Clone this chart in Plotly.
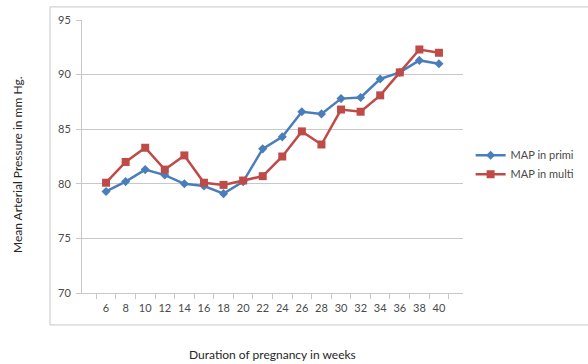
import plotly.graph_objects as go

weeks = [6, 8, 10, 12, 14, 16, 18, 20, 22, 24, 26, 28, 30, 32, 34, 36, 38, 40]
map_primi = [79.3, 80.2, 81.3, 80.8, 80.0, 79.8, 79.1, 80.2, 83.2, 84.3, 86.6, 86.4, 87.8, 87.9, 89.6, 90.2, 91.3, 91.0]
map_multi = [80.1, 82.0, 83.3, 81.3, 82.6, 80.1, 79.9, 80.3, 80.7, 82.5, 84.8, 83.6, 86.8, 86.6, 88.1, 90.2, 92.3, 92.0]
y_ticks = [70, 75, 80, 85, 90, 95]

x_labels = [str(w) for w in weeks]
FONT = "Lato"
TXT = "#4A4A4A"
GRID = "#C8C8C8"

fig = go.Figure()
fig.add_trace(go.Scatter(
    x=x_labels, y=map_primi, name="MAP in primi", mode="lines+markers",
    line=dict(color="#4A7EBB", width=2.5),
    marker=dict(symbol="diamond", size=7, color="#4A7EBB"),
))
fig.add_trace(go.Scatter(
    x=x_labels, y=map_multi, name="MAP in multi", mode="lines+markers",
    line=dict(color="#BE4B48", width=2.5),
    marker=dict(symbol="square", size=8, color="#BE4B48"),
))

fig.update_layout(
    width=588, height=364,
    margin=dict(l=82, r=125, t=20, b=71, autoexpand=False),
    paper_bgcolor="white", plot_bgcolor="white",
    font=dict(family=FONT, size=11, color=TXT),
    showlegend=True,
    legend=dict(x=1.02, y=0.47, xanchor="left", yanchor="middle",
                font=dict(size=11, color=TXT), bgcolor="rgba(0,0,0,0)",
                itemwidth=30),
    xaxis=dict(
        type="category", showgrid=False, showline=True, linecolor=GRID,
        linewidth=1, ticks="outside", tickson="boundaries", ticklen=5,
        tickcolor=GRID, tickfont=dict(size=11, color=TXT), zeroline=False,
        tickangle=0, automargin=False, ticklabelstandoff=5,
    ),
    yaxis=dict(
        range=[70, 95], tickvals=y_ticks, showgrid=True, gridcolor=GRID,
        gridwidth=1, showline=True, linecolor=GRID, ticks="outside",
        ticklen=5, tickcolor=GRID, tickfont=dict(size=11, color=TXT),
        zeroline=False, automargin=False, ticklabelstandoff=3,
    ),
    shapes=[dict(type="rect", xref="paper", yref="paper",
                 x0=-0.084, x1=1.34, y0=-0.117, y1=1.048,
                 line=dict(color="#C8C8C8", width=1))],
    annotations=[
        dict(text="Duration of pregnancy in weeks", xref="paper", yref="paper",
             x=(272 - 82) / 381, y=(293 - 354) / 273, xanchor="center", yanchor="middle",
             showarrow=False, font=dict(size=12, color="#262626")),
        dict(text="Mean Arterial Pressure in mm Hg.", xref="paper", yref="paper",
             x=(17 - 82) / 381, y=(293 - 165) / 273, xanchor="center", yanchor="middle",
             textangle=-90, showarrow=False, font=dict(size=12, color="#262626")),
    ],
)

fig.write_html("out.html", config={"displayModeBar": False},
               post_script="document.body.style.margin='0';document.body.style.overflow='hidden';")
